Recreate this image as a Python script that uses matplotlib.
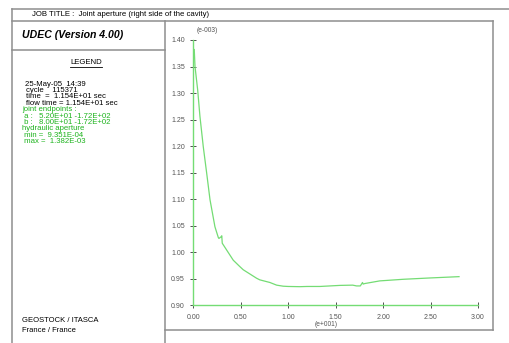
import matplotlib
matplotlib.use("Agg")
import matplotlib.pyplot as plt
import numpy as np

plt.rcParams["font.family"] = ["Liberation Sans", "DejaVu Sans"]

# joint distance along the joint (e+001) and hydraulic aperture (e-003)
dist = [0.01, 0.018, 0.046, 0.07, 0.105, 0.141, 0.176, 0.228, 0.263, 0.27,
        0.292, 0.300, 0.305, 0.352, 0.421, 0.49, 0.526, 0.667, 0.70, 0.807,
        0.878, 0.947, 1.0, 1.123, 1.2, 1.334, 1.544, 1.68, 1.72, 1.76,
        1.783, 1.79, 1.807, 1.965, 2.21, 2.49, 2.80]
aperture = [1.382, 1.350, 1.306, 1.256, 1.199, 1.149, 1.099, 1.048, 1.028, 1.026,
            1.029, 1.031, 1.017, 1.004, 0.985, 0.973, 0.967, 0.951, 0.948, 0.943,
            0.938, 0.936, 0.9355, 0.9351, 0.9355, 0.9355, 0.9375, 0.938, 0.9365, 0.9365,
            0.943, 0.940, 0.941, 0.946, 0.949, 0.9515, 0.954]

x_ticks = [0.0, 0.5, 1.0, 1.5, 2.0, 2.5, 3.0]
y_ticks = [0.90, 0.95, 1.00, 1.05, 1.10, 1.15, 1.20, 1.25, 1.30, 1.35, 1.40]

legend_black = ["25-May-05  14:39", "cycle    115371",
                "time  =  1.154E+01 sec", "flow time = 1.154E+01 sec"]
legend_green = ["joint endpoints :", " a :   5.20E+01 -1.72E+02",
                " b :   8.00E+01 -1.72E+02", "hydraulic aperture",
                " min =  9.351E-04", " max =  1.382E-03"]

W, H = 509, 343
GREEN_LINE = "#74dc74"
GREEN_TXT = "#1db31d"
FRAME = "#8e8e8e"

fig = plt.figure(figsize=(W / 100, H / 100), dpi=100)
fig.patch.set_facecolor("white")

# --- frame / text overlay in pixel coordinates ---
ov = fig.add_axes([0, 0, 1, 1])
ov.set_xlim(0, W)
ov.set_ylim(H, 0)
ov.axis("off")

lw = 1.1
ov.plot([12, 509], [8.5, 8.5], color=FRAME, lw=lw)
ov.plot([12, 493], [21, 21], color=FRAME, lw=lw)
ov.plot([12, 12], [8.5, 343], color=FRAME, lw=lw)
ov.plot([165, 165], [21, 343], color=FRAME, lw=lw)
ov.plot([12, 165], [50, 50], color=FRAME, lw=lw)
ov.plot([493, 493], [21, 330], color=FRAME, lw=lw)
ov.plot([165, 493], [330, 330], color=FRAME, lw=lw)

ov.text(32, 15, "JOB TITLE :  Joint aperture (right side of the cavity)",
        fontsize=5.6, va="center", ha="left")
ov.text(22, 35.5, "UDEC (Version 4.00)", fontsize=7.6, fontweight="bold",
        fontstyle="italic", va="center", ha="left")
ov.text(86, 63, "LEGEND", fontsize=5.6, va="center", ha="center")
ov.plot([70, 102], [67, 67], color="black", lw=0.6)

y0 = 84
step = 6.4
for i, s in enumerate(legend_black):
    ov.text(26 if i else 25, y0 + i * step, s, fontsize=5.6, va="center", ha="left")
for i, s in enumerate(legend_green):
    ov.text(22.3, y0 + (i + 4) * step, s, fontsize=5.6, va="center", ha="left",
            color=GREEN_TXT)

ov.text(21.7, 320, "GEOSTOCK / ITASCA", fontsize=5.5, va="center", ha="left")
ov.text(21.7, 330.7, "France / France", fontsize=5.5, va="center", ha="left")

# --- plot axes ---
left, right = 193.3 / W, 478 / W
bottom, top = 1 - 305.3 / H, 1 - 40 / H
ax = fig.add_axes([left, bottom, right - left, top - bottom])
ax.patch.set_alpha(0)
ax.plot(dist, aperture, color=GREEN_LINE, lw=0.9)
ax.set_xlim(0, 3.0)
ax.set_ylim(0.90, 1.40)
ax.set_xticks(x_ticks)
ax.set_yticks(y_ticks)
ax.set_xticklabels([f"{v:.2f}" for v in x_ticks])
ax.set_yticklabels([f"{v:.2f}" for v in y_ticks])
for side in ["top", "right"]:
    ax.spines[side].set_visible(False)
for side in ["left", "bottom"]:
    ax.spines[side].set_color(GREEN_LINE)
    ax.spines[side].set_linewidth(1.0)
ax.tick_params(direction="inout", length=4, width=0.6, color="#333333",
               labelsize=5.0, labelcolor="#555555", pad=4)

ov.text(207, 31, "(e-003)", fontsize=4.8, color="#555555", va="center", ha="center")
ov.text(326, 325, "(e+001)", fontsize=4.8, color="#555555", va="center", ha="center")

fig.savefig("out.png", dpi=100)
